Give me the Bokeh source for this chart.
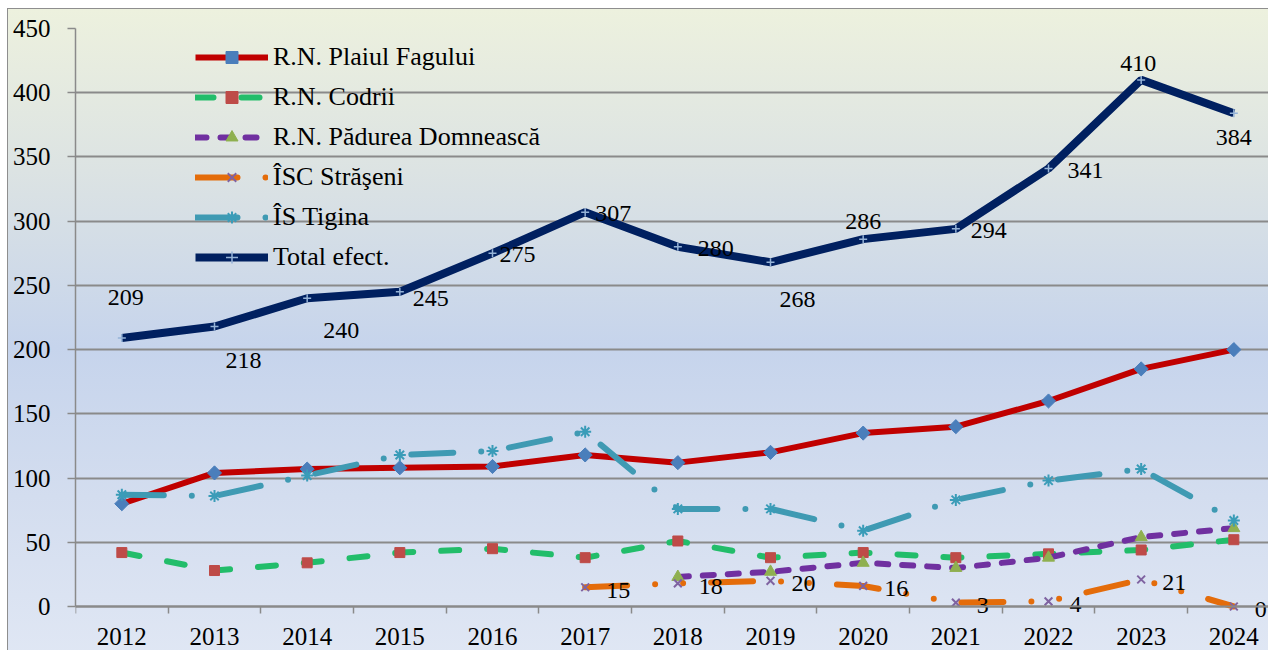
from bokeh.plotting import figure
from bokeh.models import FixedTicker, ColumnDataSource, Range1d
from bokeh.core.properties import value
from bokeh.embed import file_html
from bokeh.resources import INLINE
import math

years = [2012, 2013, 2014, 2015, 2016, 2017, 2018, 2019, 2020, 2021, 2022, 2023, 2024]
plaiul = [80, 104, 107, 108, 109, 118, 112, 120, 135, 140, 160, 185, 200]
codrii = [42, 28, 34, 42, 45, 38, 51, 38, 42, 38, 41, 44, 52]
years_pad = [2018, 2019, 2020, 2021, 2022, 2023, 2024]
padurea = [23, 27, 34, 30, 38, 54, 61]
years_isc = [2017, 2018, 2019, 2020, 2021, 2022, 2023, 2024]
isc = [15, 18, 20, 16, 3, 4, 21, 0]
tigina = [87, 86, 102, 118, 121, 136, 76, 76, 59, 83, 98, 107, 67]
total = [209, 218, 240, 245, 275, 307, 280, 268, 286, 294, 341, 410, 384]
y_ticks = [0, 50, 100, 150, 200, 250, 300, 350, 400, 450]

names = ["R.N. Plaiul Fagului", "R.N. Codrii", "R.N. Pădurea Domnească",
         "ÎSC Străşeni", "ÎS Tigina", "Total efect."]

# label offsets (styling, screen px)
tot_dx = [4, 29, 34, 31, 25, 28, 38, 27, 0, 33, 37, -3, 0]
tot_dy = [-41, 34, 32, 7, 1, 1, 2, 37, -18, 2, 2, -16, 24]

FONT = "Liberation Serif"
GRID = "#8a8a8a"

p = figure(width=1268, height=650, output_backend="svg", toolbar_location=None,
           x_range=Range1d(2011.5, 2024.374), y_range=Range1d(-34.26, 450),
           min_border_left=75, min_border_right=0, min_border_top=28, min_border_bottom=0)
p.background_fill_alpha = 0
p.border_fill_alpha = 0
p.outline_line_color = None
p.styles = {
    "background": (
        "linear-gradient(#8e8e8e,#8e8e8e) 8px 8px / 100% 1px no-repeat, "
        "linear-gradient(#8e8e8e,#8e8e8e) 7px 8px / 1px 100% no-repeat, "
        "linear-gradient(to bottom, #edf1de 0%, #dce3e3 25%, #c6d4ec 52%, #d3ddef 75%, #e0e7f4 100%) "
        "8px 9px / 100% 100% no-repeat, white"
    ),
}

# grid
p.xgrid.visible = False
p.ygrid.ticker = FixedTicker(ticks=y_ticks)
p.ygrid.grid_line_color = GRID
p.ygrid.grid_line_width = 2

# y axis
yax = p.yaxis[0]
yax.ticker = FixedTicker(ticks=y_ticks)
yax.bounds = (0, 450)
yax.axis_line_color = GRID
yax.axis_line_width = 1.5
yax.major_tick_line_color = GRID
yax.major_tick_line_width = 1.5
yax.major_tick_out = 8
yax.major_tick_in = 0
yax.minor_tick_line_color = None
yax.major_label_standoff = 17
yax.major_label_text_font = FONT
yax.major_label_text_font_size = "25px"
yax.major_label_text_color = "black"

# x axis
xax = p.xaxis[0]
xax.fixed_location = 0
xax.ticker = FixedTicker(ticks=years, minor_ticks=[y + 0.5 for y in [2011] + years])
xax.axis_line_color = GRID
xax.axis_line_width = 2
xax.major_tick_line_color = None
xax.major_tick_out = 0
xax.major_tick_in = 0
xax.minor_tick_line_color = GRID
xax.minor_tick_line_width = 1.5
xax.minor_tick_out = 7
xax.minor_tick_in = 0
xax.major_label_standoff = 15
xax.major_label_text_font = FONT
xax.major_label_text_font_size = "25px"
xax.major_label_text_color = "black"

# series
p.line(years, plaiul, line_color="#c00000", line_width=6, legend_label=names[0])
p.scatter(years, plaiul, marker="square", angle=math.pi / 4, size=10, fill_color="#4a7ebb",
          line_color="#4a7ebb", legend_label=names[0])

p.line(years, codrii, line_color="#22bd6a", line_width=6, line_dash="18 28", line_cap="round",
       legend_label=names[1])
p.scatter(years, codrii, marker="square", size=10, fill_color="#be4b48", line_color="#be4b48",
          legend_label=names[1])

p.line(years_pad, padurea, line_color="#7030a0", line_width=6, line_dash="11 14", line_cap="round",
       legend_label=names[2])
p.scatter(years_pad, padurea, marker="triangle", size=12, fill_color="#8fb050", line_color="#8fb050",
          legend_label=names[2])

p.line(years_isc, isc, line_color="#e46c0a", line_width=6, line_dash="42 28 0 28 0 28", line_cap="round",
       legend_label=names[3])
p.scatter(years_isc, isc, marker="x", size=11, line_color="#7f63a1", line_width=2,
          legend_label=names[3])

p.line(years, tigina, line_color="#3f9ab3", line_width=6, line_dash="42 28 0 28", line_cap="round",
       legend_label=names[4])
p.scatter(years, tigina, marker="asterisk", size=12, line_color="#3a9cb8", line_width=2,
          legend_label=names[4])

p.line(years, total, line_color="#002060", line_width=8, legend_label=names[5])
p.scatter(years, total, marker="cross", size=8, line_color="#95b3d7", line_width=1.5,
          legend_label=names[5])

# data labels
src_tot = ColumnDataSource(dict(x=years, y=total, t=[str(v) for v in total], dx=tot_dx, dy=tot_dy))
p.text(x="x", y="y", text="t", x_offset="dx", y_offset="dy", source=src_tot,
       text_font=value(FONT), text_font_size="24px", text_color="black",
       text_align="center", text_baseline="middle")

src_isc = ColumnDataSource(dict(x=years_isc, y=isc, t=[str(v) for v in isc]))
p.text(x="x", y="y", text="t", x_offset=21, y_offset=3, source=src_isc,
       text_font=value(FONT), text_font_size="24px", text_color="black",
       text_align="left", text_baseline="middle")

# legend
lg = p.legend[0]
lg.location = (120, 378)
lg.padding = 0
lg.margin = 0
lg.spacing = 10
lg.glyph_width = 73
lg.glyph_height = 30
lg.label_height = 30
lg.label_standoff = 5
lg.label_text_font = FONT
lg.label_text_font_size = "26px"
lg.label_text_color = "black"
lg.background_fill_alpha = 0
lg.border_line_color = None

open("out.html", "w").write(file_html(p, INLINE))
